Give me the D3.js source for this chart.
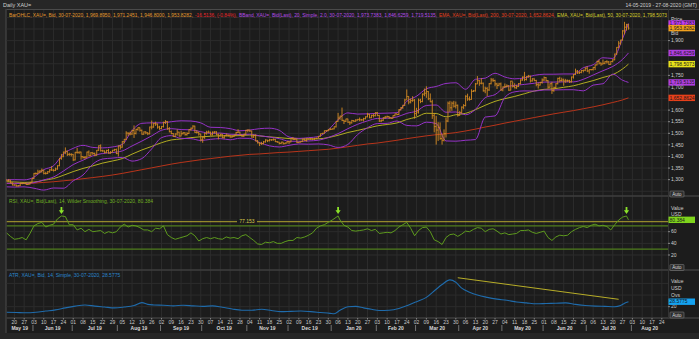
<!DOCTYPE html>
<html>
<head>
<meta charset="utf-8">
<script src="https://cdn.jsdelivr.net/npm/d3@7"></script>
<style>
  html, body { margin: 0; padding: 0; background: #262626; }
  svg { display: block; font-family: "Liberation Sans", Arial, sans-serif; }
</style>
</head>
<body>
<svg id="chart" width="699" height="339"></svg>
<script>
// Precios diarios XAU= (Bid), 14-05-2019 .. 30-07-2020, un valor por dia habil
const opens = [
  1301,1296,1298,1286,1277,1277,1273,1274,1284,1284,1284,1279,1281,1288,
  1305,1327,1326,1333,1337,1341,1327,1327,1334,1342,1341,1340,1346,1360,1391,1399,1419,1423,1409,1409,
  1409,1385,1418,1418,1419,1399,1396,1397,1419,1403,1416,1413,1406,1427,1446,1425,1424,1418,1426,1414,1418,1427,1430,
  1413,1445,1440,1464,1474,1501,1500,1497,1512,1500,1517,1524,1513,1496,1506,1502,1498,1527,1527,1542,1540,1527,
  1520,1529,1547,1551,1520,1507,1499,1486,1497,1505,1488,1498,1502,1494,1499,1516,1522,1531,1504,1504,1497,
  1472,1483,1500,1505,1505,1493,1505,1506,1494,1489,1496,1481,1490,1492,1490,1484,1487,1492,1504,1505,1492,1488,1496,
  1513,1514,1510,1484,1491,1467,1459,1456,1455,1463,1471,1468,1472,1472,1474,1464,1462,1456,1462,1455,1458,
  1464,1463,1478,1474,1475,1460,1462,1465,1475,1469,1476,1476,1476,1475,1478,1479,1487,1498,1500,1511,1511,1515,
  1517,1519,1528,1551,1566,1574,1556,1552,1562,1548,1545,1555,1552,1557,1560,1558,1558,1563,1571,1582,1567,1577,1576,
  1589,1577,1553,1556,1567,1570,1572,1567,1565,1576,1584,1581,1602,1611,1620,1644,1659,1635,1641,1643,
  1585,1592,1643,1637,1669,1673,1680,1649,1636,1576,1529,1514,1526,1477,1470,1498,1553,1630,1610,1630,1617,1621,
  1577,1590,1613,1620,1660,1648,1646,1681,1683,1713,1727,1716,1716,1683,1694,1687,1714,1730,1728,1713,1707,1713,
  1687,1700,1702,1705,1686,1725,1702,1696,1702,1715,1730,1743,1732,1745,1747,1726,1735,1728,1710,1708,1719,
  1730,1740,1727,1699,1714,1684,1698,1714,1737,1728,1730,1726,1727,1727,1722,1743,1754,1768,1761,1763,1771,1772,
  1781,1769,1775,1775,1784,1795,1810,1803,1799,1802,1809,1808,1797,1810,1817,1842,1871,1889,1902,1942,1958,1970
];
const highs = [
  1303,1302,1299,1288,1280,1279,1277,1286,1287,1286,1286,1284,1290,1306,
  1329,1331,1343,1341,1348,1342,1334,1337,1345,1358,1345,1352,1362,1393,1411,1421,1439,1425,1416,1414,
  1410,1420,1437,1421,1421,1402,1402,1421,1426,1419,1418,1417,1428,1448,1452,1429,1426,1429,1433,1423,1428,1433,1434,
  1447,1450,1466,1476,1509,1504,1507,1515,1534,1520,1526,1525,1516,1508,1509,1505,1529,1555,1545,1550,1542,1532,
  1531,1550,1557,1553,1527,1512,1501,1500,1517,1507,1511,1506,1505,1505,1518,1525,1535,1533,1513,1507,1498,
  1487,1502,1511,1512,1507,1508,1509,1509,1499,1498,1497,1492,1499,1495,1494,1490,1494,1506,1518,1506,1494,1498,1515,
  1517,1515,1511,1494,1495,1471,1461,1463,1467,1474,1472,1476,1475,1478,1476,1467,1463,1463,1463,1460,1466,
  1465,1479,1484,1480,1477,1464,1467,1477,1478,1480,1478,1479,1478,1480,1481,1488,1499,1502,1512,1514,1519,1524,
  1521,1530,1553,1588,1576,1611,1558,1563,1563,1552,1558,1557,1561,1562,1568,1562,1567,1573,1588,1584,1580,1584,1591,
  1592,1580,1560,1569,1575,1576,1574,1569,1578,1585,1585,1604,1613,1623,1649,1689,1660,1650,1660,1648,
  1610,1650,1649,1672,1693,1703,1682,1672,1645,1588,1575,1548,1547,1498,1517,1566,1637,1640,1637,1640,1637,1624,
  1596,1616,1626,1664,1671,1659,1690,1687,1717,1747,1730,1738,1719,1701,1699,1717,1739,1738,1731,1718,1718,1719,
  1702,1715,1711,1708,1727,1723,1716,1709,1717,1733,1745,1765,1746,1752,1749,1738,1737,1731,1718,1722,1737,
  1745,1743,1730,1716,1722,1701,1716,1740,1744,1740,1736,1735,1732,1731,1745,1756,1779,1773,1768,1773,1774,1785,
  1789,1776,1777,1785,1797,1813,1818,1806,1818,1811,1815,1812,1811,1820,1844,1872,1898,1904,1945,1981,1972,1971
];
const lows = [
  1292,1292,1284,1275,1274,1270,1270,1272,1280,1281,1277,1277,1279,1287,
  1303,1321,1324,1328,1330,1323,1322,1324,1330,1338,1335,1337,1343,1358,1386,1397,1410,1402,1403,1400,
  1381,1383,1412,1411,1386,1391,1388,1393,1400,1401,1407,1401,1403,1424,1421,1420,1413,1414,1412,1412,1417,1423,1410,
  1400,1430,1438,1456,1471,1489,1491,1493,1480,1495,1511,1507,1494,1494,1496,1492,1495,1517,1524,1532,1520,1515,
  1518,1525,1540,1515,1504,1496,1484,1483,1490,1486,1487,1495,1490,1490,1497,1511,1520,1502,1499,1490,1465,
  1459,1476,1494,1500,1490,1491,1499,1492,1474,1487,1479,1477,1487,1486,1481,1481,1484,1489,1502,1490,1484,1484,1494,
  1504,1506,1481,1480,1465,1456,1445,1450,1453,1460,1462,1465,1467,1468,1462,1459,1452,1453,1452,1453,1456,
  1454,1461,1471,1471,1458,1458,1460,1462,1466,1464,1473,1472,1472,1472,1475,1478,1486,1497,1499,1507,1509,1514,
  1516,1517,1525,1550,1558,1553,1540,1549,1545,1536,1542,1548,1550,1555,1552,1554,1551,1560,1569,1565,1565,1568,1573,
  1574,1549,1548,1553,1562,1567,1562,1562,1564,1573,1578,1579,1599,1605,1618,1644,1625,1629,1636,1563,
  1575,1585,1630,1634,1660,1653,1643,1634,1562,1504,1451,1467,1472,1451,1465,1482,1548,1592,1597,1611,1607,1572,
  1576,1585,1604,1616,1640,1641,1645,1678,1680,1712,1705,1711,1680,1673,1660,1683,1711,1721,1703,1691,1703,1683,
  1681,1695,1698,1683,1685,1698,1694,1692,1700,1711,1727,1725,1728,1740,1719,1723,1725,1703,1693,1706,1714,
  1726,1724,1693,1697,1670,1679,1694,1711,1720,1723,1705,1718,1721,1717,1719,1736,1752,1756,1756,1759,1763,1768,
  1764,1757,1771,1771,1773,1793,1797,1791,1797,1798,1801,1795,1796,1806,1815,1838,1866,1882,1900,1927,1943,1947
];
const closes = [
  1296,1298,1286,1277,1277,1273,1274,1284,1284,1284,1279,1281,1288,1305,
  1327,1326,1333,1337,1341,1327,1327,1334,1342,1341,1340,1346,1360,1391,1399,1419,1423,1409,1409,1409,
  1385,1418,1418,1419,1399,1396,1397,1419,1403,1416,1413,1406,1427,1446,1425,1424,1418,1426,1414,1418,1427,1430,1413,
  1445,1440,1464,1474,1501,1500,1497,1512,1500,1517,1524,1513,1496,1506,1502,1498,1527,1527,1542,1540,1527,1520,
  1529,1547,1551,1520,1507,1499,1486,1497,1505,1488,1498,1502,1494,1499,1516,1522,1531,1504,1504,1497,1472,
  1483,1500,1505,1505,1493,1505,1506,1494,1489,1496,1481,1490,1492,1490,1484,1487,1492,1504,1505,1492,1488,1496,1513,
  1514,1510,1484,1491,1467,1459,1456,1455,1463,1471,1468,1472,1472,1474,1464,1462,1456,1462,1455,1458,1464,
  1463,1478,1474,1475,1460,1462,1465,1475,1469,1476,1476,1476,1475,1478,1479,1487,1498,1500,1511,1511,1515,1517,
  1519,1528,1551,1566,1574,1556,1552,1562,1548,1545,1555,1552,1557,1560,1558,1558,1563,1571,1582,1567,1577,1576,1589,
  1577,1553,1556,1567,1570,1572,1567,1565,1576,1584,1581,1602,1611,1620,1644,1659,1635,1641,1643,1585,
  1592,1643,1637,1669,1673,1680,1649,1636,1576,1529,1514,1526,1477,1470,1498,1553,1630,1610,1630,1617,1621,1577,
  1590,1613,1620,1660,1648,1646,1681,1683,1713,1727,1716,1716,1683,1694,1687,1714,1730,1728,1713,1707,1713,1687,
  1700,1702,1705,1686,1725,1702,1696,1702,1715,1730,1743,1732,1745,1747,1726,1735,1728,1710,1708,1719,1730,
  1740,1727,1699,1714,1684,1698,1714,1737,1728,1730,1726,1727,1727,1722,1743,1754,1768,1761,1763,1771,1772,1781,
  1769,1775,1775,1784,1795,1810,1803,1799,1802,1809,1808,1797,1810,1817,1842,1871,1889,1902,1942,1958,1970,1954
];

// Indicadores, un punto por semana (indice de dia habil)
const bandIdx = [0,4,9,14,19,24,29,34,39,44,49,54,59,64,69,74,79,84,89,94,99,104,109,114,119,124,129,134,139,144,
  149,154,159,164,169,174,179,184,189,194,199,204,209,214,219,224,229,234,239,244,249,254,259,264,269,274,279,284,289,
  294,299,304,309,314,317];
const bbUpper = [1299,1300,1299,1311,1343,1360,1411,1435,1448,1439,1437,1441,1452,1512,1543,1545,1545,1550,1554,1553,
  1545,1526,1525,1520,1511,1514,1520,1522,1513,1484,1478,1481,1486,1514,1559,1588,1583,1584,1586,1587,1589,1638,1660,
  1692,1702,1715,1718,1690,1733,1738,1759,1743,1735,1739,1750,1755,1755,1756,1756,1783,1796,1826,1823,1909,1973.7];
const bbMid = [1284,1284,1283.5,1287,1299,1311.5,1337,1365,1384,1402.5,1413,1417,1424,1445.5,1466.5,1489,1513,1520,1516,
  1515,1507,1500,1501,1496,1494.5,1496,1489.5,1484,1477,1466,1465.5,1467,1470,1482,1498.5,1520,1539,1553.5,1564,1565,
  1570.5,1586,1596,1620,1622,1591,1592,1580,1603,1654,1667,1699,1706.5,1711,1716,1721,1721,1722,1722,1733,1751.5,1770,
  1788.5,1819,1846.6];
const bbLower = [1269,1268,1269,1263,1255,1264,1263,1295,1320,1367,1389,1393,1396,1380,1391,1433,1481,1490,1478,1477,
  1469,1474,1477,1472,1479,1478,1460,1446,1441,1448,1454,1453,1454,1450,1439,1452,1495,1524,1542,1543,1553,1534,1532,
  1548,1542,1467,1466,1470,1473,1570,1575,1655,1679,1683,1682,1687,1687,1688,1688,1683,1708,1714,1755,1729,1719.5];
const ema50 = [1291,1290,1288,1289.5,1297.4,1304.6,1318.8,1334.8,1348.4,1359.5,1371.5,1380.5,1390.9,1410.1,1428.2,
  1443.4,1459.4,1471.3,1475.6,1481.3,1485,1487.2,1489.2,1488.8,1490.1,1492.6,1488.7,1484.6,1481.2,1477.4,1476.1,1475.3,
  1476,1481.6,1491.4,1503.5,1512.6,1522.3,1532.2,1538,1544.7,1559.6,1570.3,1586.5,1585.5,1571,1580.2,1586,1601.9,
  1620.9,1637.8,1649.4,1659.1,1670.8,1682.6,1689.6,1692.2,1698.5,1705.1,1716.3,1727.3,1740.8,1753,1777.6,1798.5];
const ema200 = [1284,1284,1284,1285,1288,1291,1295,1299,1304,1309,1314,1320,1327,1335,1343,1351,1359,1367,1374,1380,
  1386,1391,1396,1401,1405,1409,1411,1414,1417,1419,1422,1425,1428,1431,1436,1442,1448,1454,1458,1464,1470,1477,1483,
  1489,1494,1498,1503,1510,1518,1527,1535,1544,1552,1560,1568,1576,1584,1591,1598,1606,1614,1623,1633,1644,1652.9];

// RSI (14, Wilder)
const rsiIdx = [0,2,4,6,8,10,12,14,16,18,20,22,24,26,28,30,32,34,36,38,40,42,44,46,48,50,52,54,56,58,60,62,64,66,68,
  70,72,74,76,78,80,82,84,86,88,90,92,94,96,98,100,102,104,106,108,110,112,114,116,118,120,122,124,126,128,130,132,
  134,136,138,140,142,144,146,148,150,152,154,156,158,160,162,164,166,169,170,172,174,176,178,180,182,184,186,188,190,
  192,194,196,198,200,202,204,206,208,210,212,214,216,218,220,222,224,226,228,230,232,234,236,238,240,242,244,246,248,
  250,252,254,256,258,260,262,264,266,268,270,272,274,276,278,280,282,284,286,288,290,292,294,296,298,300,302,304,306,
  308,310,312,314,316,317];
const rsiVal = [58,52,47,48,50,46,57,70,74,76,68,71,73,82,87,86,72,72,63,66,60,64,60,61,62,57,60,58,60,68,73,68,71,70,
  67,63,63,60,66,65,70,55,50,47,49,51,53,58,53,44,48,50,48,50,48,47,51,49,50,48,53,55,50,45,39,38,42,41,43,40,40,43,
  45,45,50,49,51,54,58,66,70,72,76,80,87,80,71,68,62,61,62,63,65,62,64,57,58,59,58,62,68,72,76,66,53,62,67,68,60,46,
  43,38,50,55,56,52,56,61,60,64,67,66,60,64,65,61,56,58,55,56,57,62,62,63,59,57,59,61,50,45,51,54,53,54,60,64,67,69,
  67,71,73,70,71,69,63,72,80,85,87,80.384];
const rsiLevels = [70, 30];
const rsiMark = 77.153;
const arrowIdx = [28, 169, 316];
const arrowVal = [87, 87, 87];

// ATR (14, Simple)
const atrIdx = [0,5,10,15,20,25,30,35,40,45,50,55,60,65,69,72,75,80,85,90,95,100,105,110,115,120,125,130,135,140,145,
  150,155,160,165,167,170,174,178,182,186,190,195,200,205,209,214,219,222,226,229,232,236,240,245,250,255,260,265,270,
  275,280,285,290,295,300,305,310,313,315,317];
const atrVal = [10.5,10,9.5,10.5,12.5,14.5,18,21,23,21,19.5,18,19.5,22,27,24,23,22.5,21.5,22.5,21.5,20.5,21.5,19,16,14,
  14,15.5,13.5,11.5,12,12.5,11.5,10,8.5,8,14,20,20.5,18,15.5,13.5,14,17,23,28.6,36,50,58,66,62,52,45,40,36,33,31,28,
  26.5,25,25.5,26,26.5,24,22,21,20.5,20,22,26,28.5775];
const atrTrendIdx = [230, 312];
const atrTrendVal = [69.7, 32.7];

// Ejes
const priceTicks = [1250,1300,1350,1400,1450,1500,1550,1600,1650,1700,1750,1800,1850,1900,1950,2000];
const priceLabels = [1300,1350,1400,1450,1500,1550,1600,1700,1750,1900];
const rsiTicks = [20, 40, 60, 80];
const rsiLabels = [20, 40, 60];
const atrTicks = [20, 40, 60];
const atrLabels = [20];

const lastBoxes = [
  {v: 1973.7383, fill: "#c13cf2", text: "#1a1a1a"},
  {v: 1953.8282, fill: "#f0a01e", text: "#1a1a1a"},
  {v: 1846.6259, fill: "#b03ee0", text: "#1a1a1a"},
  {v: 1798.5073, fill: "#e8e21a", text: "#1a1a1a"},
  {v: 1719.5135, fill: "#b03ee0", text: "#1a1a1a"},
  {v: 1652.8624, fill: "#e8401a", text: "#1a1a1a"}
];

const legendMain = [
  {t: "BarOHLC, XAU=, Bid, 30-07-2020, 1,969.8950, 1,971.2451, 1,946.8000, 1,953.8282,", c: "#e39a2e", x0: 9, x1: 193},
  {t: "-16.5136, (-0.84%),", c: "#e8262a", x0: 195, x1: 237},
  {t: "BBand, XAU=, Bid(Last), 20, Simple, 2.0, 30-07-2020, 1,973.7383, 1,846.6259, 1,719.5135,", c: "#b44ce6", x0: 239, x1: 437},
  {t: "EMA, XAU=, Bid(Last), 200, 30-07-2020, 1,652.8624,", c: "#e4401e", x0: 439, x1: 555},
  {t: "EMA, XAU=, Bid(Last), 50, 30-07-2020, 1,798.5073", c: "#d6cf2c", x0: 557, x1: 667}
];

// Geometria
const PL = 6.5, PR = 668;
const MAIN = {top: 9, bottom: 196};
const RSIP = {top: 196, bottom: 270};
const ATRP = {top: 270, bottom: 318};

const svg = d3.select("#chart");

const start = new Date(2019, 4, 14), end = new Date(2020, 7, 28);
const days = d3.timeDay.range(start, end).filter(d => d.getDay() !== 0 && d.getDay() !== 6);

const x = d3.scaleLinear().domain([0, days.length - 1]).range([6.5, 667.7]);
const yP = d3.scaleLinear().domain([1500, 1900]).range([133.3, 40.6]);
const yR = d3.scaleLinear().domain([20, 60]).range([255, 231.7]);
const yA = d3.scaleLinear().domain([20, 60]).range([306.7, 283.4]);

// Fondos
svg.append("rect").attr("width", 699).attr("height", 339).attr("fill", "#262626");
svg.append("rect").attr("x", PL).attr("y", MAIN.top).attr("width", 699 - PL).attr("height", 333 - MAIN.top).attr("fill", "#1c1c1c");
svg.append("line").attr("x1", PL - 0.5).attr("x2", PL - 0.5).attr("y1", MAIN.top).attr("y2", 333).attr("stroke", "#4a4a4a");
svg.append("line").attr("x1", PL).attr("x2", 699).attr("y1", MAIN.top + 0.5).attr("y2", MAIN.top + 0.5).attr("stroke", "#4a4a4a");

// Cuadricula
const mondays = days.map((d, i) => ({d, i})).filter(o => o.d.getDay() === 1);
const grid = svg.append("g").attr("stroke", "#2c2c2c").attr("stroke-width", 1);
mondays.forEach(o => {
  grid.append("line").attr("x1", x(o.i)).attr("x2", x(o.i)).attr("y1", MAIN.top + 1).attr("y2", ATRP.bottom);
});
priceTicks.forEach(v => {
  if (yP(v) > MAIN.top + 2 && yP(v) < MAIN.bottom) grid.append("line").attr("x1", PL).attr("x2", PR).attr("y1", yP(v)).attr("y2", yP(v));
});
rsiTicks.forEach(v => grid.append("line").attr("x1", PL).attr("x2", PR).attr("y1", yR(v)).attr("y2", yR(v)));
atrTicks.forEach(v => grid.append("line").attr("x1", PL).attr("x2", PR).attr("y1", yA(v)).attr("y2", yA(v)));

// Separadores de paneles
[MAIN.bottom, RSIP.bottom, ATRP.bottom].forEach(y => {
  svg.append("line").attr("x1", PL).attr("x2", 699).attr("y1", y).attr("y2", y).attr("stroke", "#3e3e3e").attr("stroke-width", 1.5);
});
svg.append("line").attr("x1", PR + 0.5).attr("x2", PR + 0.5).attr("y1", MAIN.top).attr("y2", ATRP.bottom).attr("stroke", "#333");

// Clips
const defs = svg.append("defs");
function clip(id, p) {
  defs.append("clipPath").attr("id", id).append("rect")
    .attr("x", PL).attr("y", p.top).attr("width", PR - PL).attr("height", p.bottom - p.top);
}
clip("clipMain", MAIN); clip("clipRsi", RSIP); clip("clipAtr", ATRP);

// Panel principal
const gMain = svg.append("g").attr("clip-path", "url(#clipMain)");
const line = (ys, idx) => d3.line().x((d, k) => x(idx[k])).y(d => ys(d)).curve(d3.curveMonotoneX);

gMain.append("path").datum(ema200).attr("d", line(yP, bandIdx)).attr("fill", "none").attr("stroke", "#b9351b").attr("stroke-width", 1);
gMain.append("path").datum(ema50).attr("d", line(yP, bandIdx)).attr("fill", "none").attr("stroke", "#b3ad22").attr("stroke-width", 1);
[bbUpper, bbMid, bbLower].forEach(s => {
  gMain.append("path").datum(s).attr("d", line(yP, bandIdx)).attr("fill", "none").attr("stroke", "#9633c8").attr("stroke-width", 1);
});

gMain.append("g").selectAll("path").data(closes.map((c, i) => i)).join("path")
  .attr("d", i => `M${x(i)},${yP(highs[i])}V${yP(lows[i])}M${x(i) - 1},${yP(opens[i])}H${x(i)}M${x(i)},${yP(closes[i])}H${x(i) + 1}`)
  .attr("fill", "none").attr("stroke", "#d58a22").attr("stroke-width", 0.9);

// Panel RSI
const gRsi = svg.append("g").attr("clip-path", "url(#clipRsi)");
rsiLevels.forEach(v => {
  gRsi.append("line").attr("x1", PL).attr("x2", PR).attr("y1", yR(v)).attr("y2", yR(v)).attr("stroke", "#4f7d1c").attr("stroke-width", 1.2);
});
gRsi.append("line").attr("x1", PL).attr("x2", PR).attr("y1", yR(rsiMark)).attr("y2", yR(rsiMark)).attr("stroke", "#b3a630").attr("stroke-width", 1);
gRsi.append("rect").attr("x", 237).attr("y", yR(rsiMark) - 3).attr("width", 20).attr("height", 6).attr("fill", "#1c1c1c");
gRsi.append("text").attr("x", 247).attr("y", yR(rsiMark)).attr("dy", "0.35em").attr("text-anchor", "middle")
  .attr("font-size", 5).attr("fill", "#d9cc4c").text(d3.format(".3f")(rsiMark));
gRsi.append("path").datum(rsiVal).attr("d", d3.line().x((d, k) => x(rsiIdx[k])).y(d => yR(d)))
  .attr("fill", "none").attr("stroke", "#5e9b1e").attr("stroke-width", 1);
arrowIdx.forEach((ai, k) => {
  gRsi.append("path").attr("transform", `translate(${x(ai)},${yR(arrowVal[k]) - 2})`)
    .attr("d", "M-0.9,-7H0.9V-3.6H2.6L0,0L-2.6,-3.6H-0.9Z").attr("fill", "#8be22a");
});

// Panel ATR
const gAtr = svg.append("g").attr("clip-path", "url(#clipAtr)");
gAtr.append("path").datum(atrVal).attr("d", d3.line().x((d, k) => x(atrIdx[k])).y(d => yA(d)).curve(d3.curveMonotoneX))
  .attr("fill", "none").attr("stroke", "#1f6bab").attr("stroke-width", 1.1);
gAtr.append("line").attr("x1", x(atrTrendIdx[0])).attr("y1", yA(atrTrendVal[0]))
  .attr("x2", x(atrTrendIdx[1])).attr("y2", yA(atrTrendVal[1])).attr("stroke", "#b7ad28").attr("stroke-width", 1);

// Leyendas
const fs = 5;
legendMain.forEach(s => {
  svg.append("text").attr("x", s.x0).attr("y", 16.5).attr("font-size", fs).attr("fill", s.c)
    .attr("textLength", s.x1 - s.x0).attr("lengthAdjust", "spacingAndGlyphs").text(s.t);
});
svg.append("text").attr("x", 9).attr("y", 203).attr("font-size", fs).attr("fill", "#6fae22")
  .text("RSI, XAU=, Bid(Last),  14, Wilder Smoothing, 30-07-2020, 80.384");
svg.append("text").attr("x", 9).attr("y", 277).attr("font-size", fs).attr("fill", "#2a86cc")
  .text("ATR, XAU=, Bid,  14, Simple, 30-07-2020, 28.5775");

svg.append("text").attr("x", 3).attr("y", 7.2).attr("font-size", 5.5).attr("fill", "#cfcfcf").text("Daily XAU=");
svg.append("text").attr("x", 697).attr("y", 7.2).attr("text-anchor", "end").attr("font-size", 5).attr("fill", "#cfcfcf")
  .text("14-05-2019 - 27-08-2020 (GMT)");

// Eje derecho
const axisTxt = "#cfcfcf";
const gAx = svg.append("g").attr("font-size", 5).attr("fill", axisTxt);
priceLabels.forEach(v => {
  gAx.append("line").attr("x1", PR).attr("x2", PR + 2).attr("y1", yP(v)).attr("y2", yP(v)).attr("stroke", "#888");
  gAx.append("text").attr("x", 671).attr("y", yP(v)).attr("dy", "0.35em").text(d3.format(",")(v));
});
rsiLabels.forEach(v => {
  gAx.append("line").attr("x1", PR).attr("x2", PR + 2).attr("y1", yR(v)).attr("y2", yR(v)).attr("stroke", "#888");
  gAx.append("text").attr("x", 671).attr("y", yR(v)).attr("dy", "0.35em").text(v);
});
atrLabels.forEach(v => {
  gAx.append("line").attr("x1", PR).attr("x2", PR + 2).attr("y1", yA(v)).attr("y2", yA(v)).attr("stroke", "#888");
  gAx.append("text").attr("x", 671).attr("y", yA(v)).attr("dy", "0.35em").text(v);
});
[["Price", 19], ["Bid", 33.5]].forEach(([t, y]) => gAx.append("text").attr("x", 671).attr("y", y).attr("dy", "0.35em").text(t));
[["Value", 208], ["USD", 214]].forEach(([t, y]) => gAx.append("text").attr("x", 671).attr("y", y).attr("dy", "0.35em").text(t));
[["Value", 281.7], ["USD", 288.3], ["Ovs", 295]].forEach(([t, y]) => gAx.append("text").attr("x", 671).attr("y", y).attr("dy", "0.35em").text(t));

function valueBox(y, label, fill, color) {
  svg.append("rect").attr("x", 668.5).attr("y", y - 3.2).attr("width", 26.5).attr("height", 6.4).attr("fill", fill);
  svg.append("text").attr("x", 669.5).attr("y", y).attr("dy", "0.35em").attr("font-size", 5).attr("fill", color).text(label);
}
lastBoxes.forEach(b => valueBox(yP(b.v), d3.format(",.4f")(b.v), b.fill, b.text));
valueBox(yR(rsiVal[rsiVal.length - 1]), d3.format(".3f")(rsiVal[rsiVal.length - 1]), "#7fd51c", "#1a1a1a");
valueBox(yA(atrVal[atrVal.length - 1]), d3.format(".4f")(atrVal[atrVal.length - 1]), "#14a2f0", "#1a1a1a");

// Botones Auto
[194, 267.5, 315].forEach(y => {
  svg.append("rect").attr("x", 670).attr("y", y - 3).attr("width", 14).attr("height", 6).attr("rx", 0.8)
    .attr("fill", "#2e2e2e").attr("stroke", "#8a8a8a").attr("stroke-width", 0.5);
  svg.append("text").attr("x", 677).attr("y", y).attr("dy", "0.35em").attr("text-anchor", "middle")
    .attr("font-size", 4.5).attr("fill", "#dcdcdc").text("Auto");
});

// Eje de fechas
const gX = svg.append("g").attr("font-size", 5).attr("fill", "#c9c9c9");
mondays.forEach(o => {
  gX.append("line").attr("x1", x(o.i)).attr("x2", x(o.i)).attr("y1", ATRP.bottom).attr("y2", ATRP.bottom + 1.5).attr("stroke", "#888");
  gX.append("text").attr("x", x(o.i)).attr("y", 323.8).attr("text-anchor", "middle").text(d3.timeFormat("%d")(o.d));
});
const monthStarts = days.map((d, i) => i).filter(i => i === 0 || days[i].getMonth() !== days[i - 1].getMonth());
monthStarts.forEach((s, k) => {
  const e = k + 1 < monthStarts.length ? monthStarts[k + 1] : days.length;
  if (s > 0) gX.append("line").attr("x1", x(s) - 1).attr("x2", x(s) - 1).attr("y1", 325).attr("y2", 331).attr("stroke", "#9a9a9a").attr("stroke-width", 0.7);
  const cx = ((s > 0 ? x(s) - 1 : PL) + (e < days.length ? x(e) - 1 : PR)) / 2;
  gX.append("text").attr("x", cx).attr("y", 330).attr("text-anchor", "middle").attr("font-weight", "bold")
    .attr("fill", "#d8d8d8").text(d3.timeFormat("%b %y")(days[s]));
});
</script>
</body>
</html>
